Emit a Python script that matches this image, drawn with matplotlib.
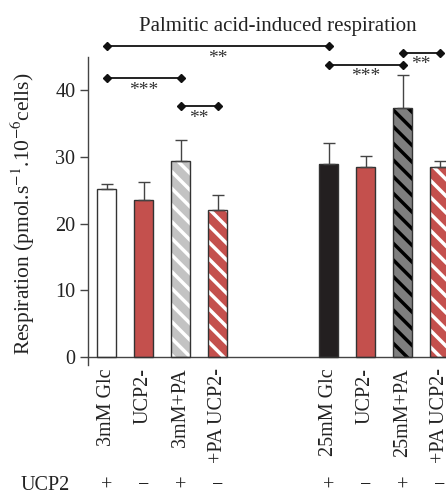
import numpy as np
import matplotlib
matplotlib.use('Agg')
import matplotlib.pyplot as plt
from matplotlib.transforms import blended_transform_factory

plt.rcParams['font.family'] = ['Liberation Serif', 'DejaVu Serif']
plt.rcParams['mathtext.fontset'] = 'stix'
plt.rcParams['hatch.linewidth'] = 2.5

# data
labels = ["3mM Glc", "UCP2-", "3mM+PA", "+PA UCP2-",
          "25mM Glc", "UCP2-", "25mM+PA", "+PA UCP2-"]
positions = [0, 1, 2, 3, 6, 7, 8, 9]
values = [25.2, 23.6, 29.4, 22.1, 28.9, 28.5, 37.4, 28.5]
errors = [0.7, 2.6, 3.2, 2.2, 3.2, 1.7, 4.9, 0.9]
ucp2 = ["+", "\u2212", "+", "\u2212", "+", "\u2212", "+", "\u2212"]
# (bar from, bar to, height, stars)
brackets = [(0, 4, 46.6, "**"), (0, 2, 41.8, "***"), (2, 3, 37.6, "**"),
            (4, 6, 43.8, "***"), (6, 7, 45.6, "**")]

red = '#c4504d'
faces = ['white', red, '#c3c3c3', red, '#231f20', red, '#7f7f7f', red]
hatches = [None, None, '\\\\', '\\\\', None, None, '\\\\', '\\\\']
hatchcol = ['none', 'none', 'white', 'white', 'none', 'none', 'black', 'white']

W, H = 446, 493
fig = plt.figure(figsize=(W/100, H/100), dpi=100)
ax = fig.add_axes([88/W, 128/H, 10.3*37/W, 308/H])

# spines first: set_position resets the ticks
for side in ['top', 'right']:
    ax.spines[side].set_visible(False)
ax.spines['bottom'].set_position(('data', 0))
for side in ['bottom', 'left']:
    ax.spines[side].set_color('#444444')
    ax.spines[side].set_linewidth(1)

width = 0.54
bars = ax.bar(positions, values, width, color=faces, linewidth=0, zorder=2)
for b, h, hc in zip(bars, hatches, hatchcol):
    if h:
        b.set_hatch(h)
        b.set_edgecolor(hc)
ax.bar(positions, values, width, fill=False, edgecolor='#333333', linewidth=1, zorder=3)
ax.errorbar(positions, values, yerr=[np.zeros(len(errors)), errors], fmt='none',
            ecolor='#444444', elinewidth=1, capsize=4.5, capthick=1, zorder=4)

for i, j, y, stars in brackets:
    x1, x2 = positions[i], positions[j]
    ax.plot([x1, x2], [y, y], color='#111111', lw=1.3, marker='D', markersize=4.5,
            clip_on=False, zorder=5)
    ax.text((x1+x2)/2, y-0.5, stars, ha='center', va='top', fontsize=14,
            color='#333333', clip_on=False)

ax.set_xlim(-0.5, 9.8)
ax.set_ylim(-1.2, 45)
ax.set_yticks([0, 10, 20, 30, 40])
ax.set_xticks(positions)
ax.set_xticklabels(labels, rotation=90, va='top', ha='center')

ax.tick_params(axis='y', length=6, width=1, color='#444444', labelsize=14.5,
               labelcolor='#222222', pad=3)
ax.tick_params(axis='x', length=0, labelsize=14.5, labelcolor='#222222', pad=8,
               labelrotation=90)

ax.set_ylabel(r'Respiration (pmol.s$^{-1}$.10$^{-6}$cells)', fontsize=15.5,
              color='#222222')
ax.yaxis.set_label_coords(-0.134, 0.49)

fig.text(278/W, 1-27/H, 'Palmitic acid-induced respiration', ha='center', va='center',
         fontsize=15, color='#222222')

tr = blended_transform_factory(ax.transData, fig.transFigure)
fig.text(45/W, 1-486/H, 'UCP2', ha='center', va='center', fontsize=14.5, color='#222222')
for x, s in zip(positions, ucp2):
    ax.text(x, 1-486/H, s, transform=tr, ha='center', va='center', fontsize=14.5,
            color='#222222', clip_on=False)

fig.savefig('out.png', dpi=100)
